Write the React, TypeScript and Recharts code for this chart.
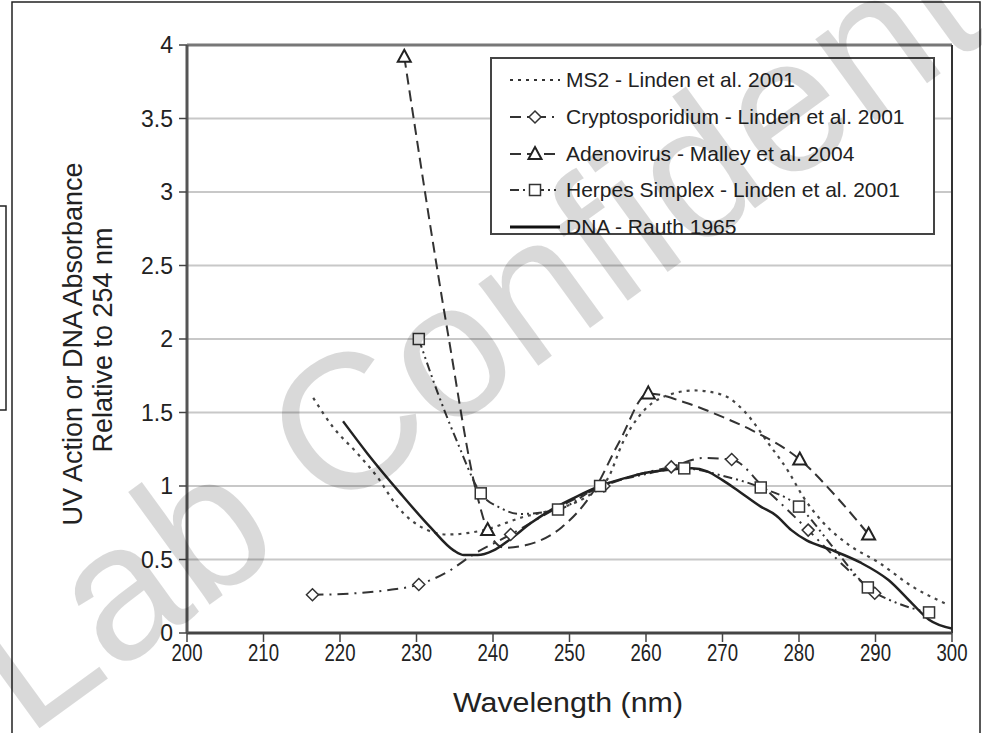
import React from "react";
import {
  ComposedChart,
  Line,
  Scatter,
  XAxis,
  YAxis,
  CartesianGrid,
  ReferenceLine,
} from "recharts";

type Pt = [number, number];

// wavelength (nm), relative value
const X_TICKS = [200, 210, 220, 230, 240, 250, 260, 270, 280, 290, 300];
const Y_TICKS = [0, 0.5, 1, 1.5, 2, 2.5, 3, 3.5, 4];

const MS2_CURVE: Pt[] = [
  [216.5, 1.6], [219.1, 1.4], [222.3, 1.22], [224.9, 1.06], [227.5, 0.86],
  [231, 0.71], [234, 0.67], [238.8, 0.7], [244, 0.79], [248, 0.84],
  [252, 0.92], [255, 1.05], [257, 1.3], [259.5, 1.5], [262, 1.6],
  [266.3, 1.65], [270, 1.62], [273, 1.5], [276, 1.29], [278.6, 1.1],
  [280.5, 0.93], [283, 0.76], [286.5, 0.6], [290.4, 0.48], [295, 0.31],
  [299.6, 0.19],
];

const CRYPTO_CURVE: Pt[] = [
  [216.4, 0.26], [222, 0.27], [226, 0.29], [230.3, 0.33], [234.5, 0.43],
  [237, 0.52], [242.3, 0.67], [248, 0.84], [254.5, 1.0], [259, 1.08],
  [263.3, 1.13], [267.5, 1.19], [271.2, 1.18], [275.4, 0.99], [281.2, 0.7],
  [286, 0.45], [289.9, 0.27],
];
const CRYPTO_PTS: Pt[] = [
  [216.4, 0.26], [230.3, 0.33], [242.3, 0.67], [254.5, 1.0], [263.3, 1.13],
  [271.2, 1.18], [281.2, 0.7], [289.9, 0.27],
];

const ADENO_CURVE: Pt[] = [
  [228.4, 3.92], [234.1, 2.04], [238, 0.92], [239.3, 0.7], [241.5, 0.58],
  [244.5, 0.6], [249, 0.72], [253.2, 0.97], [256.5, 1.3], [260.3, 1.63],
  [265, 1.57], [270, 1.47], [273.8, 1.38], [280.1, 1.18], [285, 0.92],
  [289.1, 0.67],
];
const ADENO_PTS: Pt[] = [
  [228.4, 3.92], [239.3, 0.7], [260.3, 1.63], [280.1, 1.18], [289.1, 0.67],
];

const HERPES_CURVE: Pt[] = [
  [230.3, 2.0], [232.8, 1.63], [235.4, 1.29], [238.4, 0.95], [241, 0.85],
  [243.5, 0.81], [248.5, 0.84], [254, 1.0], [259, 1.07], [265, 1.12],
  [270, 1.07], [275, 0.99], [280, 0.86], [284.5, 0.58], [289, 0.31],
  [293, 0.2], [297, 0.14],
];
const HERPES_PTS: Pt[] = [
  [230.3, 2.0], [238.4, 0.95], [248.5, 0.84], [254, 1.0], [265, 1.12],
  [275, 0.99], [280, 0.86], [289, 0.31], [297, 0.14],
];

const DNA_CURVE: Pt[] = [
  [220.4, 1.44], [223.6, 1.22], [227.9, 0.95], [231.8, 0.72], [234.9, 0.56],
  [236.2, 0.53], [238, 0.53], [240, 0.56], [242.3, 0.64], [245, 0.75],
  [248, 0.85], [251, 0.93], [254, 1.0], [257, 1.05], [260, 1.09],
  [263, 1.11], [266, 1.12], [268, 1.1], [270, 1.04], [272, 0.97],
  [275, 0.86], [277, 0.8], [279, 0.7], [281, 0.63], [284, 0.57],
  [288, 0.48], [291.7, 0.36], [294.8, 0.2], [297, 0.09], [300, 0.03],
];

const rows = (pts: Pt[]) => pts.map(([x, y]) => ({ x, y }));

const FONT = '"Liberation Sans", Arial, sans-serif';
const INK = "#333";

const Diamond = ({ cx, cy }: any) => (
  <path
    d={`M${cx},${cy - 6} L${cx + 6},${cy} L${cx},${cy + 6} L${cx - 6},${cy} Z`}
    fill="#fff"
    stroke={INK}
    strokeWidth={1.5}
  />
);
const Triangle = ({ cx, cy }: any) => (
  <path
    d={`M${cx},${cy - 7} L${cx + 6.5},${cy + 5} L${cx - 6.5},${cy + 5} Z`}
    fill="#fff"
    stroke="#222"
    strokeWidth={2}
  />
);
const Square = ({ cx, cy }: any) => (
  <rect x={cx - 5.5} y={cy - 5.5} width={11} height={11} fill="#fff" stroke={INK} strokeWidth={1.5} />
);

const LEGEND = [
  { name: "MS2 - Linden et al. 2001", dash: "3 5", w: 2.2, mark: null },
  { name: "Cryptosporidium - Linden et al. 2001", dash: "11 6 2 6", w: 2, mark: Diamond },
  { name: "Adenovirus - Malley et al. 2004", dash: "11 6", w: 2, mark: Triangle },
  { name: "Herpes Simplex - Linden et al. 2001", dash: "9 4 2 4 2 4", w: 2, mark: Square },
  { name: "DNA - Rauth 1965", dash: undefined, w: 3, mark: null },
];

const XTick = ({ x, y, payload }: any) => (
  <text
    x={x}
    y={y + 17}
    textAnchor="middle"
    fontSize={23}
    fontFamily={FONT}
    fill="#222"
    textLength={31}
    lengthAdjust="spacingAndGlyphs"
  >
    {payload.value}
  </text>
);

export default function App() {
  return (
    <div style={{ position: "absolute", left: 0, top: 0, width: 982, height: 733, overflow: "hidden", background: "#fff" }}>
      {/* frame + axis titles */}
      <svg width={982} height={733} style={{ position: "absolute", left: 0, top: 0 }}>
        <rect x={12} y={2} width={968} height={760} fill="none" stroke="#222" strokeWidth={1.5} />
        <rect x={-2} y={206} width={8} height={204} fill="none" stroke="#222" strokeWidth={1.5} />
        <g fontFamily={FONT} fill="#222" fontSize={27} textAnchor="middle">
          <text transform="translate(82,344) rotate(-90)">UV Action or DNA Absorbance</text>
          <text transform="translate(112,340) rotate(-90)">Relative to 254 nm</text>
          <text x={568} y={712} textLength={230} lengthAdjust="spacingAndGlyphs">Wavelength (nm)</text>
        </g>
      </svg>

      <div style={{ position: "absolute", left: 0, top: 0 }}>
        <ComposedChart width={982} height={733} margin={{ top: 45, right: 30, bottom: 60, left: 127 }}>
          <CartesianGrid vertical={false} stroke="#c8c8c8" strokeWidth={2} />
          <XAxis
            dataKey="x"
            type="number"
            domain={[200, 300]}
            ticks={X_TICKS}
            height={40}
            tickSize={9}
            tick={<XTick />}
            axisLine={{ stroke: "#444", strokeWidth: 3 }}
            tickLine={{ stroke: "#444", strokeWidth: 1.5 }}
            allowDataOverflow
          />
          <YAxis
            type="number"
            domain={[0, 4]}
            ticks={Y_TICKS}
            width={60}
            tickSize={8}
            tickMargin={6}
            tick={{ fontSize: 23, fontFamily: FONT, fill: "#222" }}
            axisLine={{ stroke: "#555", strokeWidth: 3 }}
            tickLine={{ stroke: "#444", strokeWidth: 1.5 }}
          />
          <ReferenceLine y={4} stroke="#777" strokeWidth={3} />
          <ReferenceLine x={300} stroke="#333" strokeWidth={2} />

          <Line data={rows(MS2_CURVE)} dataKey="y" type="monotone" stroke="#444" strokeWidth={2.2} strokeDasharray="3 5" dot={false} isAnimationActive={false} />
          <Line data={rows(CRYPTO_CURVE)} dataKey="y" type="monotone" stroke={INK} strokeWidth={2} strokeDasharray="11 6 2 6" dot={false} isAnimationActive={false} />
          <Line data={rows(ADENO_CURVE)} dataKey="y" type="monotone" stroke={INK} strokeWidth={2} strokeDasharray="11 6" dot={false} isAnimationActive={false} />
          <Line data={rows(HERPES_CURVE)} dataKey="y" type="monotone" stroke={INK} strokeWidth={2} strokeDasharray="9 4 2 4 2 4" dot={false} isAnimationActive={false} />
          <Line data={rows(DNA_CURVE)} dataKey="y" type="monotone" stroke="#222" strokeWidth={2.5} dot={false} isAnimationActive={false} />

          <Scatter data={rows(CRYPTO_PTS)} dataKey="y" shape={<Diamond />} isAnimationActive={false} />
          <Scatter data={rows(ADENO_PTS)} dataKey="y" shape={<Triangle />} isAnimationActive={false} />
          <Scatter data={rows(HERPES_PTS)} dataKey="y" shape={<Square />} isAnimationActive={false} />
        </ComposedChart>
      </div>

      {/* legend */}
      <div
        style={{
          position: "absolute",
          left: 490,
          top: 57,
          width: 441,
          height: 174,
          border: "2px solid #444",
          background: "#fff",
          fontFamily: FONT,
          fontSize: 21,
          color: "#222",
        }}
      >
        {LEGEND.map((it, i) => {
          const M = it.mark;
          return (
            <div key={it.name} style={{ position: "absolute", left: 16, top: 6 + i * 36.8, height: 30, display: "flex", alignItems: "center" }}>
              <svg width={54} height={30}>
                <line x1={2} y1={15} x2={52} y2={15} stroke={i === 4 ? "#111" : INK} strokeWidth={it.w} strokeDasharray={it.dash} />
                {M ? <M cx={27} cy={15} /> : null}
              </svg>
              <span style={{ marginLeft: 4, whiteSpace: "nowrap" }}>{it.name}</span>
            </div>
          );
        })}
      </div>

      {/* watermark */}
      <svg width={982} height={733} style={{ position: "absolute", left: 0, top: 0, pointerEvents: "none" }}>
        <text
          transform="translate(-25,775) rotate(-36)"
          fontFamily={FONT}
          fontSize={192}
          fill="#000"
          fillOpacity={0.15}
        >
          -Lab Confidential
        </text>
      </svg>
    </div>
  );
}
